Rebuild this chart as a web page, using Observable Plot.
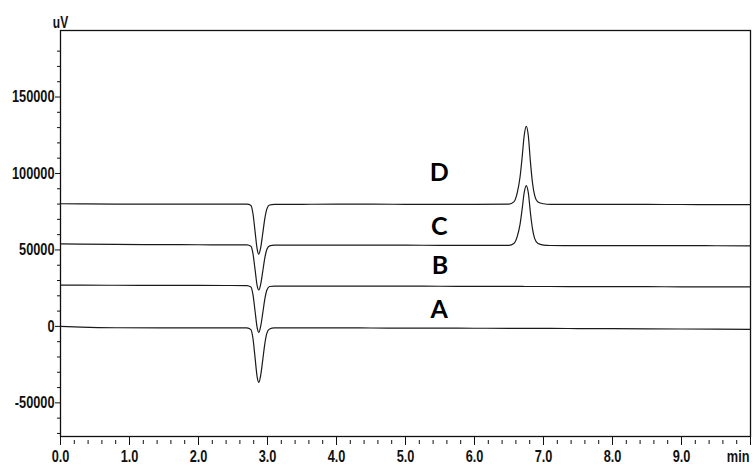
<!DOCTYPE html>
<html>
<head>
<meta charset="utf-8">
<script src="https://cdn.jsdelivr.net/npm/d3@7"></script>
<script src="https://cdn.jsdelivr.net/npm/@observablehq/plot@0.6"></script>
<style>
  html, body { margin: 0; padding: 0; background: #fff; }
  #chart svg { display: block; }
</style>
</head>
<body>
<div id="chart"></div>
<script>
// Retention times (min)
const times = [0, 0.3, 0.8, 1.5, 2.0, 2.4, 2.7,
  2.76, 2.79, 2.82, 2.85, 2.875, 2.90, 2.93, 2.96, 2.99, 3.03, 3.10,
  3.5, 4.0, 4.5, 5.0, 5.5, 6.0, 6.5,
  6.57, 6.62, 6.66, 6.69, 6.72, 6.75, 6.78, 6.81, 6.84, 6.87, 6.92, 7.0, 7.1,
  7.5, 8.0, 8.5, 9.0, 9.5, 10.0];

// Signal (uV) for each trace
const seriesA = [0, -500, -900, -1000, -1000, -1000, -1000,
  -2100, -8100, -20600, -33000, -36600, -32300, -22400, -11700, -4600, -1700, -1000,
  -1000, -1000, -1050, -1100, -1150, -1200, -1250,
  -1250, -1250, -1250, -1250, -1250, -1250, -1300, -1300, -1300, -1300, -1300, -1300, -1300,
  -1400, -1500, -1600, -1700, -1800, -1900];
const seriesB = [27000, 26950, 26900, 26850, 26800, 26750, 26700,
  25800, 20600, 9900, -800, -3900, -200, 8300, 17500, 23600, 26100, 26400,
  26400, 26400, 26350, 26300, 26250, 26200, 26150,
  26150, 26150, 26150, 26150, 26100, 26100, 26100, 26100, 26100, 26100, 26100, 26100, 26100,
  26050, 26000, 25950, 25900, 25850, 25800];
const seriesC = [54000, 53800, 53600, 53500, 53400, 53350, 53300,
  52400, 47400, 37100, 26700, 23800, 27300, 35600, 44500, 50300, 52700, 53100,
  53200, 53200, 53150, 53100, 53050, 53000, 53000,
  54200, 58900, 66700, 76500, 87400, 92100, 87400, 74500, 63900, 57700, 54200, 53200, 52900,
  52850, 52800, 52800, 52800, 52750, 52700];
const seriesD = [80200, 80100, 80000, 80000, 79950, 79900, 79900,
  79000, 73500, 62000, 50600, 47300, 51200, 60400, 70200, 76700, 79400, 79800,
  79850, 79900, 79900, 79850, 79800, 79800, 79900,
  81400, 87500, 97700, 110400, 124700, 130800, 124700, 107900, 94100, 86000, 81400, 80200, 79800,
  79800, 79800, 79750, 79700, 79650, 79600];

// Trace labels
const labelNames = ["A", "B", "C", "D"];
const labelTimes = [5.49, 5.50, 5.49, 5.49];
const labelValues = [10900, 39300, 64700, 100100];

// Ticks
const xMajor = [0, 1, 2, 3, 4, 5, 6, 7, 8, 9];
const xMinor = d3.range(0, 50).map(i => i / 5).filter(v => v % 1 !== 0 && v < 10).concat([10]);
const yMajor = [-50000, 0, 50000, 100000, 150000];
const yMinor = d3.range(-70000, 190000, 10000).filter(v => v % 50000 !== 0);

const rows = [];
[["A", seriesA], ["B", seriesB], ["C", seriesC], ["D", seriesD]].forEach(([s, vals]) => {
  vals.forEach((v, i) => rows.push({s, t: times[i], v}));
});
const labels = labelNames.map((n, i) => ({n, t: labelTimes[i], v: labelValues[i]}));

const axisFont = '"Liberation Sans Narrow", "Arial Narrow", "Liberation Sans", Arial, sans-serif';

const chart = Plot.plot({
  width: 754,
  height: 468,
  marginLeft: 60,
  marginRight: 4,
  marginTop: 30,
  marginBottom: 32,
  style: {fontFamily: axisFont, fontSize: "17px", fontWeight: "bold", color: "#111", background: "#fff"},
  x: {domain: [0, 10]},
  y: {domain: [-72000, 193500]},
  marks: [
    Plot.axisX(xMinor, {tickSize: 4, tickFormat: () => "", label: null, dy: 4, stroke: "#111"}),
    Plot.axisX(xMajor.concat([10]), {tickSize: 9, tickPadding: 4, label: null, stroke: "#111",
      tickFormat: d => d === 10 ? "" : d.toFixed(1)}),
    Plot.text([{t: 10, s: "min"}], {x: "t", text: "s", frameAnchor: "bottom", textAnchor: "end", lineAnchor: "top", dy: 13, dx: -1, fontSize: 17}),
    Plot.axisY(yMinor, {tickSize: 3, tickFormat: () => "", label: null, stroke: "#111"}),
    Plot.axisY(yMajor, {tickSize: 5, tickPadding: 1, label: null, stroke: "#111", fontSize: 17,
      tickFormat: d => String(d)}),
    Plot.text(["uV"], {frameAnchor: "top-left", textAnchor: "middle", lineAnchor: "bottom", dy: -3, fontSize: 16}),
    Plot.frame({stroke: "#111", strokeWidth: 1.3}),
    Plot.line(rows, {x: "t", y: "v", z: "s", stroke: "#1a1a1a", strokeWidth: 1.2, curve: "monotone-x"}),
    Plot.text(labels, {x: "t", y: "v", text: "n", fontFamily: "Lato, 'Open Sans', sans-serif", fontSize: 25, fontWeight: "bold", fill: "#000"})
  ]
});
document.getElementById("chart").appendChild(chart);

// Emulate a narrow bold face for the axis texts by condensing their glyphs horizontally
chart.querySelectorAll("text").forEach(el => {
  if (el.closest("g[font-family*='Lato']")) return;
  if (!el.textContent) return;
  const w = el.getComputedTextLength();
  if (w > 0) {
    el.setAttribute("textLength", (w * 0.75).toFixed(2));
    el.setAttribute("lengthAdjust", "spacingAndGlyphs");
  }
});
</script>
</body>
</html>
